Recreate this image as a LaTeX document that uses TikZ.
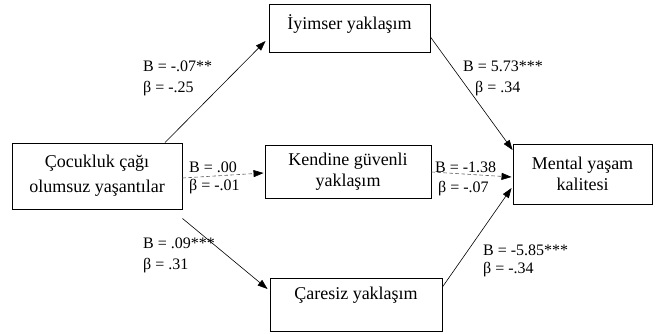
\documentclass[tikz,border=0pt]{standalone}
\usepackage{fontspec}
\setmainfont{Liberation Serif}
\usetikzlibrary{arrows.meta}
\begin{document}
\begin{tikzpicture}[x=1pt,y=-1pt,
  txt/.style={font=\fontsize{16}{21}\selectfont},
  box/.style={font=\fontsize{18}{21}\selectfont,draw,line width=0.9pt,inner sep=0pt},
  coef/.style={txt,inner sep=0pt,align=left,anchor=west},
  tip/.style={-{Triangle[length=10pt,width=7pt,color=black]}},
  effect/.style={tip,line width=0.6pt},
  weak/.style={tip,line width=0.6pt,draw=black!65,dash pattern=on 3.5pt off 2.5pt}]
\useasboundingbox (0,0) rectangle (657,334);

% variables
\node[box,align=center,minimum width=170pt,minimum height=66pt] (child) at (97,176)
  {Çocukluk çağı\\[4pt]olumsuz yaşantılar};
\node[box,minimum width=161pt,minimum height=48pt,text height=12pt,text depth=8pt] (opt) at (349.5,28)
  {İyimser yaklaşım};
\node[box,align=center,minimum width=166pt,minimum height=53pt] (conf) at (348,171.5)
  {Kendine güvenli\\yaklaşım};
\node[box,minimum width=172pt,minimum height=53pt,text height=12pt,text depth=21pt] (help) at (356,304.5)
  {Çaresiz yaklaşım};
\node[box,align=center,minimum width=139pt,minimum height=60pt] (mental) at (582.5,174)
  {Mental yaşam\\kalitesi};

% paths
\draw[effect] ([xshift=68pt]child.north) -- ([xshift=-3pt,yshift=-13pt]opt.west);
\draw[effect] ([yshift=-9pt]opt.east) -- ([yshift=24pt]mental.west);
\draw[effect] ([yshift=-9pt]child.south east) -- ([xshift=-2pt,yshift=15.5pt]help.west);
\draw[effect] ([yshift=17.5pt]help.east) -- ([xshift=-1pt,yshift=-14pt]mental.west);
\draw[weak] ([yshift=-2pt]child.east) -- ([xshift=-1pt,yshift=-1.5pt]conf.west);
\draw[weak] ([yshift=-0.5pt]conf.east) -- ([xshift=-1pt,yshift=-3pt]mental.west);

% coefficients
\node[coef] (c1) at (143,78) {B = -.07**\\β = -.25};
\node[coef] (c2) at (463,78) {B = 5.73***\\\hspace*{12pt}β = .34};
\node[coef] (c3) at (143,255) {B = .09***\\β = .31};
\node[coef,font=\fontsize{16}{18}\selectfont] (c4) at (483,260.5) {B = -5.85***\\β = -.34};
\node[coef,font=\fontsize{16}{18}\selectfont] (c5) at (189,177.5) {B = .00\\β = -.01};
\node[coef,font=\fontsize{16}{20}\selectfont] (c6) at (435,178.5) {B = -1.38\\\hspace*{3pt}β = -.07};
\end{tikzpicture}
\end{document}
